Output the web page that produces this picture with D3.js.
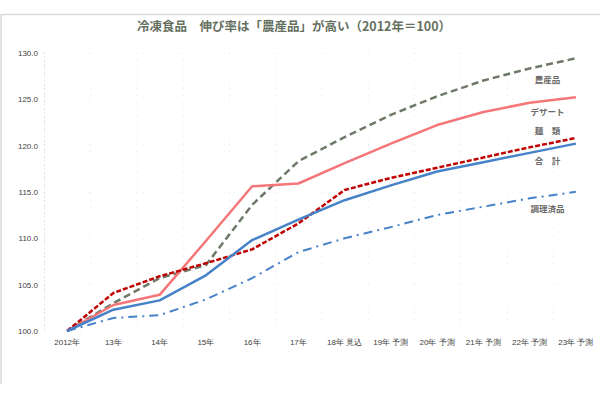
<!DOCTYPE html>
<html><head><meta charset="utf-8">
<script src="https://cdn.jsdelivr.net/npm/d3@7"></script>
<style>
html,body{margin:0;padding:0;background:#fff;}
svg{display:block;font-family:"Noto Sans CJK JP","Noto Sans",sans-serif;}
</style></head>
<body><svg id="c" width="600" height="400"></svg>
<script>
const categories = ["2012年","13年","14年","15年","16年","17年","18年 見込","19年 予測","20年 予測","21年 予測","22年 予測","23年 予測"];
const yTicks = [100,105,110,115,120,125,130];
const nousan = [100,103.0,105.7,107.1,113.6,118.3,120.9,123.3,125.3,127.0,128.3,129.4];
const dessert = [100,102.8,103.9,109.7,115.6,115.9,118.1,120.2,122.2,123.6,124.6,125.2];
const men = [100,104.1,105.9,107.3,108.8,111.6,115.2,116.5,117.6,118.7,119.8,120.8];
const goukei = [100,102.3,103.3,106.0,109.8,112.0,114.1,115.7,117.2,118.2,119.2,120.2];
const chouri = [100,101.4,101.7,103.4,105.7,108.5,110.0,111.2,112.5,113.4,114.3,115.0];
const seriesNames = ["農産品","デザート","麺　類","合　計","調理済品"];
const title = "冷凍食品　伸び率は「農産品」が高い（2012年＝100）";

const series = [
  {name:seriesNames[0], values:nousan, color:"#6e7a68", width:2.5, dash:"7,4", dy:22},
  {name:seriesNames[1], values:dessert, color:"#f47679", width:2.5, dash:null, dy:15},
  {name:seriesNames[2], values:men, color:"#c00000", width:2.5, dash:"5,2", dy:-7},
  {name:seriesNames[3], values:goukei, color:"#4682c8", width:2.5, dash:null, dy:17},
  {name:seriesNames[4], values:chouri, color:"#4682c8", width:2, dash:"9,5,2,5", dy:17}
];

const svg = d3.select("#c");
// frame
svg.append("line").attr("x1",1).attr("x2",600).attr("y1",14.5).attr("y2",14.5).attr("stroke","#d9d9d9").attr("stroke-width",1.5);
svg.append("line").attr("x1",1).attr("x2",1).attr("y1",14).attr("y2",384).attr("stroke","#d9d9d9").attr("stroke-width",1.5);

svg.append("text").attr("x",294).attr("y",31).attr("text-anchor","middle")
  .attr("font-size",12.5).attr("font-weight","bold").attr("fill","#66705f").text(title);

const x = d3.scaleBand().domain(categories).range([44,599]).padding(0);
const y = d3.scaleLinear().domain([100,130]).range([331,52.7]);
const cx = c => x(c) + x.bandwidth()/2;

// gridlines (faint dotted)
const g = svg.append("g");
g.selectAll("line.v").data(categories).enter().append("line")
  .attr("x1",d=>x(d)+0.5).attr("x2",d=>x(d)+0.5).attr("y1",y(130)).attr("y2",y(100))
  .attr("stroke","#e2e2e2").attr("stroke-width",1).attr("stroke-dasharray","1,6");
g.selectAll("line.h").data(yTicks).enter().append("line")
  .attr("x1",44).attr("x2",599).attr("y1",d=>Math.round(y(d))+0.5).attr("y2",d=>Math.round(y(d))+0.5)
  .attr("stroke","#ececec").attr("stroke-width",1).attr("stroke-dasharray","1,8");
g.append("line").attr("x1",44.5).attr("x2",44.5).attr("y1",y(130)).attr("y2",y(100))
  .attr("stroke","#cfcfcf").attr("stroke-dasharray","1,3");

// y axis
const yAxis = d3.axisLeft(y).tickValues(yTicks).tickFormat(d3.format(".1f")).tickSize(0).tickPadding(0);
const ya = svg.append("g").attr("transform","translate(38,0)").call(yAxis);
ya.select(".domain").remove();
ya.selectAll("text").attr("font-size",8).attr("fill","#404040").attr("font-family","Liberation Sans, Arial, sans-serif");

// x axis
const xAxis = d3.axisBottom(x).tickSize(0).tickPadding(0);
const xa = svg.append("g").attr("transform","translate(0,339)").call(xAxis);
xa.select(".domain").remove();
xa.selectAll("text").attr("font-size",8).attr("fill","#404040");

// lines
const line = d3.line().x((d,i)=>cx(categories[i])).y(d=>y(d));
series.forEach(s=>{
  const p = svg.append("path").datum(s.values).attr("d",line)
    .attr("fill","none").attr("stroke",s.color).attr("stroke-width",s.width)
    .attr("stroke-linejoin","round");
  if(s.dash) p.attr("stroke-dasharray",s.dash);
});

// labels
series.forEach(s=>{
  const last = s.values[s.values.length-1];
  svg.append("text").attr("x",cx(categories[10])+18).attr("y",y(last)+s.dy+3)
    .attr("text-anchor","middle").attr("font-size",8.5).attr("font-weight","bold")
    .attr("fill","#6a6a6a").text(s.name);
});
</script></body></html>
